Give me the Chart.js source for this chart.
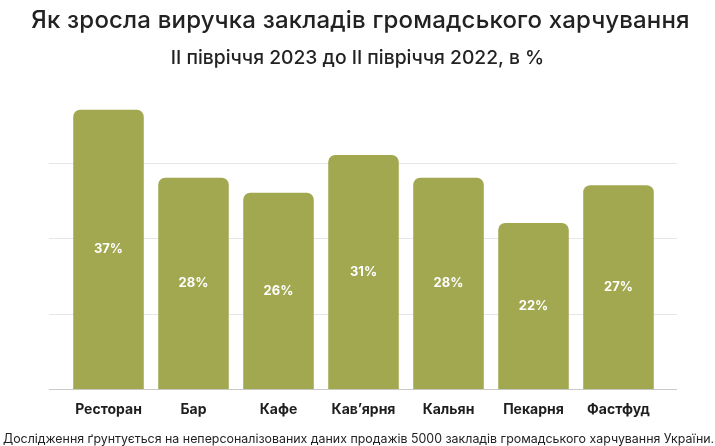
<!DOCTYPE html>
<html>
<head>
<meta charset="utf-8">
<script src="https://cdn.jsdelivr.net/npm/chart.js@4"></script>
<style>
  body { margin: 0; background: #fff; }
  #wrap { position: relative; width: 715px; height: 446px; overflow: hidden; }
  .head {
    position: absolute; left: 0; width: 715px; text-align: center; white-space: nowrap;
    font-family: Inter, sans-serif; font-weight: 500; color: #222;
  }
  #title { top: 5px; left: 3px; font-size: 24px; line-height: 30px; letter-spacing: 0.18px; }
  #subtitle { top: 45px; font-size: 19.3px; line-height: 24px; }
  #footer {
    position: absolute; left: 3px; top: 431px; white-space: nowrap;
    font-family: Inter, sans-serif; font-size: 12.4px; color: #222;
  }
</style>
</head>
<body>
<div id="wrap">
  <canvas id="revenueChart" width="715" height="446"></canvas>
  <div class="head" id="title">Як зросла виручка закладів громадського харчування</div>
  <div class="head" id="subtitle">II півріччя 2023 до II півріччя 2022, в %</div>
  <div id="footer">Дослідження ґрунтується на неперсоналізованих даних продажів 5000 закладів громадського харчування України.</div>
</div>
<script>
// Chart data
const categories = ['Ресторан', 'Бар', 'Кафе', 'Кав\u2019ярня', 'Кальян', 'Пекарня', 'Фастфуд'];
const growth = [37, 28, 26, 31, 28, 22, 27];
const gridValues = [10, 20, 30];

const barColor = '#a2a850';

// horizontal guide lines, a bit wider than the bars
const guideLines = {
    id: 'guideLines',
    beforeDatasetsDraw(chart) {
        const { ctx, chartArea, scales } = chart;
        const left = chartArea.left - 17;
        const right = chartArea.right + 16;
        ctx.save();
        ctx.lineWidth = 1;
        ctx.strokeStyle = '#e6e6e6';
        gridValues.forEach(v => {
            const y = Math.round(scales.y.getPixelForValue(v)) + 0.5;
            ctx.beginPath();
            ctx.moveTo(left, y);
            ctx.lineTo(right, y);
            ctx.stroke();
        });
        ctx.strokeStyle = '#c9c9c9';
        const y0 = Math.round(scales.y.getPixelForValue(0)) + 0.5;
        ctx.beginPath();
        ctx.moveTo(left, y0);
        ctx.lineTo(right, y0);
        ctx.stroke();
        ctx.restore();
    }
};

// percent labels inside the bars
const valueLabels = {
    id: 'valueLabels',
    afterDatasetsDraw(chart) {
        const { ctx } = chart;
        const meta = chart.getDatasetMeta(0);
        ctx.save();
        ctx.fillStyle = '#ffffff';
        ctx.font = 'bold 13px Inter, sans-serif';
        ctx.textAlign = 'center';
        ctx.textBaseline = 'middle';
        meta.data.forEach((bar, i) => {
            ctx.fillText(growth[i] + '%', bar.x, (bar.y + bar.base) / 2);
        });
        ctx.restore();
    }
};

const ctx = document.getElementById('revenueChart').getContext('2d');
new Chart(ctx, {
    type: 'bar',
    data: {
        labels: categories,
        datasets: [{
            data: growth,
            backgroundColor: barColor,
            borderRadius: { topLeft: 7, topRight: 7 },
            borderSkipped: 'bottom',
            barPercentage: 0.83,
            categoryPercentage: 1
        }]
    },
    options: {
        responsive: false,
        devicePixelRatio: 1,
        animation: false,
        layout: {
            padding: { left: 58, right: 54, top: 87, bottom: 24 }
        },
        plugins: {
            legend: { display: false },
            tooltip: { enabled: false }
        },
        scales: {
            x: {
                grid: { display: false },
                border: { display: false },
                ticks: {
                    color: '#1e1e1e',
                    padding: 4,
                    font: { family: 'Inter, sans-serif', size: 14, weight: 'bold' }
                }
            },
            y: {
                min: 0,
                max: 40,
                grid: { display: false },
                border: { display: false },
                ticks: { display: false }
            }
        }
    },
    plugins: [guideLines, valueLabels]
});
</script>
</body>
</html>
